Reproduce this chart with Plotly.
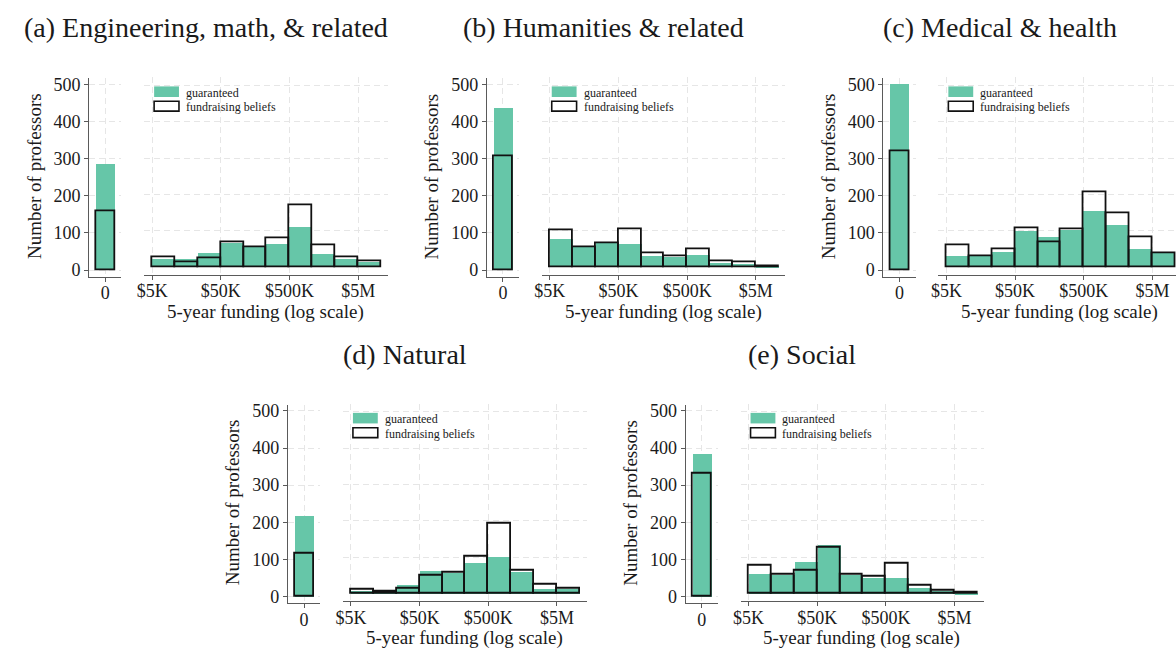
import math
import plotly.graph_objects as go

W, H = 1176, 652

# ---- data -------------------------------------------------------------
panel_titles = [
    "(a) Engineering, math, & related",
    "(b) Humanities & related",
    "(c) Medical & health",
    "(d) Natural",
    "(e) Social",
]

# histogram bin edges for positive 5-year funding (dollars, log-spaced)
bin_edges = [5000, 10772, 23208, 50000, 107722, 232079,
             500000, 1077217, 2320794, 5000000, 10772173]
tick_vals = [5000, 50000, 500000, 5000000]
tick_text = ["$5K", "$50K", "$500K", "$5M"]

# professors reporting zero funding
zero_guaranteed = [285, 437, 500, 217, 385]
zero_fundraising = [160, 308, 321, 115, 330]

# counts per positive-funding bin
eng_guaranteed = [22, 21, 38, 67, 58, 64, 109, 35, 22, 13]
eng_fundraising = [29, 15, 25, 69, 54, 81, 172, 60, 27, 17]
hum_guaranteed = [76, 56, 66, 64, 30, 27, 33, 12, 8, 4]
hum_fundraising = [103, 56, 66, 104, 40, 30, 49, 18, 14, 4]
med_guaranteed = [31, 31, 42, 98, 83, 103, 155, 117, 49, 40]
med_fundraising = [62, 31, 50, 108, 70, 106, 206, 148, 83, 40]
nat_guaranteed = [8, 6, 26, 64, 59, 86, 101, 60, 15, 14]
nat_fundraising = [11, 6, 15, 50, 59, 101, 194, 63, 24, 14]
soc_guaranteed = [54, 52, 88, 134, 53, 43, 44, 18, 9, 4]
soc_fundraising = [77, 52, 64, 127, 53, 48, 82, 23, 9, 4]

guaranteed = [eng_guaranteed, hum_guaranteed, med_guaranteed, nat_guaranteed, soc_guaranteed]
fundraising = [eng_fundraising, hum_fundraising, med_fundraising, nat_fundraising, soc_fundraising]

# ---- styling ----------------------------------------------------------
GREEN = "#66c6a8"
AXIS = "#5a5a5a"
GRID = "#e6e6e6"
FONT = "Liberation Serif"
TXT = "#1a1a1a"

# panel offsets in pixels (top-left corner of each panel block)
offsets = [(0, 0), (400, 0), (799, 0), (200, 330), (600, 330)]


def fx(px):
    return px / W


def fy(py):
    return 1 - py / H


# bins in log10 space
log_edges = [math.log10(e) for e in bin_edges]
centers = [(a + b) / 2 for a, b in zip(log_edges[:-1], log_edges[1:])]
widths = [b - a for a, b in zip(log_edges[:-1], log_edges[1:])]

fig = go.Figure()
layout = {}
annotations = []
shapes = []

XR0, XR1 = 3.583, 7.129
px_per_log = 245 / (XR1 - XR0)

for i, (dx, dy) in enumerate(offsets):
    lx = 2 * i + 1
    rx = 2 * i + 2
    lxa, lya = f"x{lx}", f"y{lx}"
    rxa, rya = f"x{rx}", f"y{rx}"

    # zero-funding bar (left subplot)
    fig.add_trace(go.Bar(x=[0], y=[zero_guaranteed[i]], width=1.0,
                         marker=dict(color=GREEN, line=dict(width=0)),
                         xaxis=lxa, yaxis=lya, showlegend=False))
    fig.add_trace(go.Bar(x=[0], y=[zero_fundraising[i]], width=1.0,
                         marker=dict(color="rgba(0,0,0,0)", line=dict(color="#111", width=1.8)),
                         xaxis=lxa, yaxis=lya, showlegend=False))
    # positive funding histogram (right subplot)
    fig.add_trace(go.Bar(x=centers, y=guaranteed[i], width=widths,
                         marker=dict(color=GREEN, line=dict(width=0)),
                         xaxis=rxa, yaxis=rya, showlegend=False))
    fig.add_trace(go.Bar(x=centers, y=fundraising[i], width=widths,
                         marker=dict(color="rgba(0,0,0,0)", line=dict(color="#111", width=1.8)),
                         xaxis=rxa, yaxis=rya, showlegend=False))

    tickfont = dict(family=FONT, size=18, color=TXT)
    common = dict(showline=True, linecolor=AXIS, linewidth=1.2, ticks="outside",
                  ticklen=4, tickcolor=AXIS, tickwidth=1, showgrid=True,
                  gridcolor=GRID, griddash="6px,4px", gridwidth=1, zeroline=False,
                  tickfont=tickfont, fixedrange=True)

    # left subplot axes
    layout[f"xaxis{lx}"] = dict(common, domain=[fx(dx + 82.7), fx(dx + 115)],
                                range=[-0.85, 0.85], tickvals=[0], ticktext=["0"],
                                ticklabelstandoff=-4, anchor=lya)
    layout[f"yaxis{lx}"] = dict(common, domain=[fy(dy + 276.7), fy(dy + 76)],
                                range=[-17.8, 516.8], tickvals=[0, 100, 200, 300, 400, 500],
                                anchor=lxa)

    # right subplot axes
    x_end = dx + 383
    xr1 = XR1
    if x_end > W:
        xr1 = XR0 + (W - (dx + 138)) / px_per_log
        x_end = W
    layout[f"xaxis{rx}"] = dict(common, domain=[fx(dx + 138), fx(x_end)],
                                range=[XR0, xr1],
                                tickvals=[math.log10(v) for v in tick_vals],
                                ticktext=tick_text, ticklabelstandoff=-4, anchor=rya)
    layout[f"yaxis{rx}"] = dict(common, domain=[fy(dy + 274.7), fy(dy + 75)],
                                range=[-20.4, 522.3], tickvals=[100, 200, 300, 400, 500],
                                showline=False, ticks="", showticklabels=False,
                                anchor=rxa)

    # panel title
    annotations.append(dict(text=panel_titles[i], x=fx(dx + 200), y=fy(dy + 25),
                            xref="paper", yref="paper", showarrow=False,
                            xanchor="center", yanchor="middle",
                            font=dict(family=FONT, size=28, color=TXT)))
    # axis titles
    annotations.append(dict(text="Number of professors", x=fx(dx + 27), y=fy(dy + 175),
                            xref="paper", yref="paper", showarrow=False, textangle=-90,
                            xanchor="center", yanchor="middle",
                            font=dict(family=FONT, size=19, color=TXT)))
    annotations.append(dict(text="5-year funding (log scale)", x=fx(dx + 260), y=fy(dy + 312),
                            xref="paper", yref="paper", showarrow=False,
                            xanchor="center", yanchor="middle",
                            font=dict(family=FONT, size=19, color=TXT)))

    # legend
    shapes.append(dict(type="rect", xref="paper", yref="paper",
                       x0=fx(dx + 148), x1=fx(dx + 173), y0=fy(dy + 95), y1=fy(dy + 84.3),
                       fillcolor=GREEN, line=dict(width=0)))
    shapes.append(dict(type="rect", xref="paper", yref="paper",
                       x0=fx(dx + 148), x1=fx(dx + 173), y0=fy(dy + 109.3), y1=fy(dy + 99.3),
                       fillcolor="white", line=dict(color="#111", width=1.6)))
    annotations.append(dict(text="guaranteed", x=fx(dx + 178), y=fy(dy + 90.5),
                            xref="paper", yref="paper", showarrow=False,
                            xanchor="left", yanchor="middle",
                            font=dict(family=FONT, size=12, color=TXT)))
    annotations.append(dict(text="fundraising beliefs", x=fx(dx + 178), y=fy(dy + 105.5),
                            xref="paper", yref="paper", showarrow=False,
                            xanchor="left", yanchor="middle",
                            font=dict(family=FONT, size=12, color=TXT)))

fig.update_layout(**layout)
fig.update_layout(
    width=W, height=H,
    margin=dict(l=0, r=0, t=0, b=0),
    paper_bgcolor="white", plot_bgcolor="white",
    barmode="overlay", bargap=0,
    annotations=annotations, shapes=shapes,
    showlegend=False,
)

fig.write_html("out.html", config={"displayModeBar": False},
               post_script="document.body.style.margin='0px';")
